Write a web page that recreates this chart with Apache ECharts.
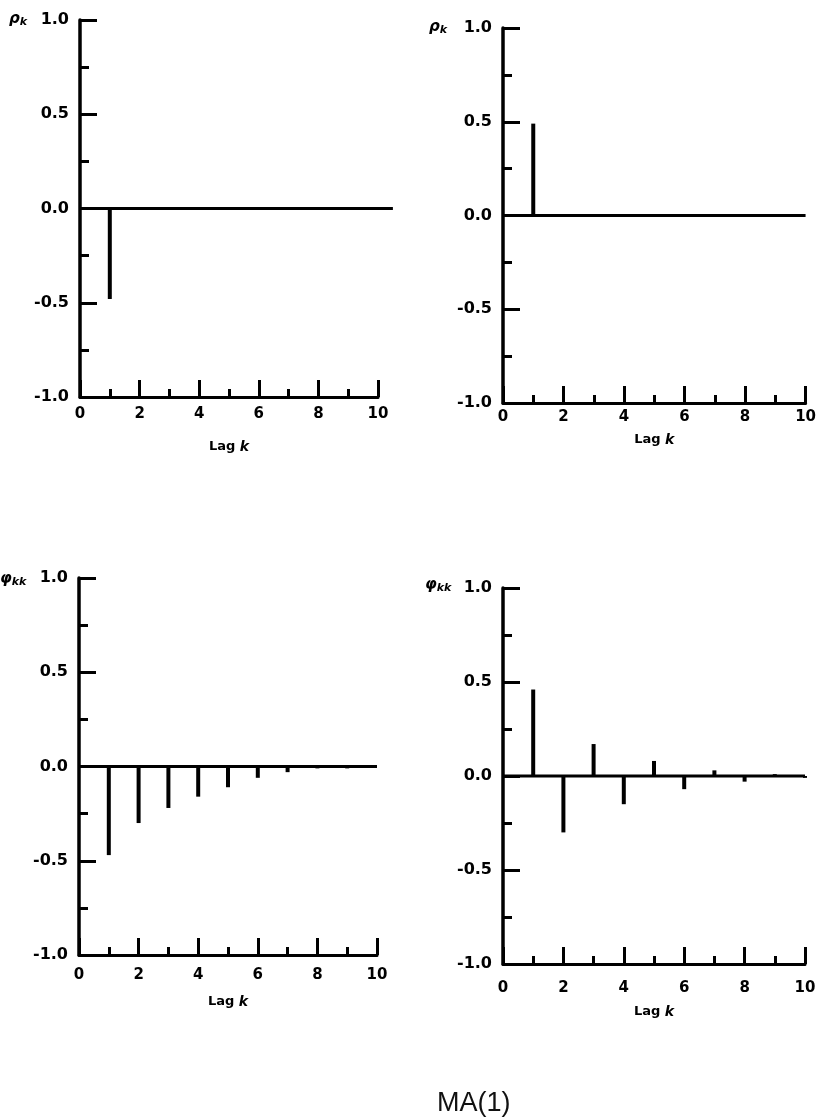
<!DOCTYPE html>
<html>
<head>
<meta charset="utf-8">
<script src="https://cdn.jsdelivr.net/npm/echarts@6/dist/echarts.min.js"></script>
<style>
html,body{margin:0;padding:0;background:#fff;}
#c{width:819px;height:1118px;}
</style>
</head>
<body>
<div id="c"></div>
<script>
// ---- data ----
const lags = [1, 2, 3, 4, 5, 6, 7, 8, 9, 10];
const acfNeg = [-0.48, 0, 0, 0, 0, 0, 0, 0, 0, 0];      // rho_k, theta > 0
const acfPos = [0.49, 0, 0, 0, 0, 0, 0, 0, 0, 0];       // rho_k, theta < 0
const pacfNeg = [-0.47, -0.30, -0.22, -0.16, -0.11, -0.06, -0.03, -0.01, -0.01, 0]; // phi_kk
const pacfAlt = [0.46, -0.30, 0.17, -0.15, 0.08, -0.07, 0.03, -0.03, 0.01, -0.01];  // phi_kk
const yTicks = [-1.0, -0.5, 0.0, 0.5, 1.0];
const xTicks = [0, 2, 4, 6, 8, 10];
const zeroLineEnd = [10.5, 10, 10, 10];
const panelSeries = [acfNeg, acfPos, pacfNeg, pacfAlt];
const yNames = ['ρ', 'ρ', 'φ', 'φ'];
const ySubs = ['k', 'k', 'kk', 'kk'];
const xName = 'Lag';
const caption = 'MA(1)';

// ---- layout (positions only) ----
const grids = [
  {left: 80, top: 20, width: 298, height: 377},
  {left: 503, top: 28, width: 304, height: 375},
  {left: 79, top: 578, width: 298, height: 377},
  {left: 503, top: 588, width: 302, height: 376}
];
const xLabelMargin = [10, 7, 13, 17];
const xNameGap = [43, 30, 40, 41];
const yNamePos = [[9, 12], [429, 20], [0, 572], [425, 578]];

const BOLD = 'DejaVu Sans';
const chart = echarts.init(document.getElementById('c'), null, {renderer: 'canvas'});

const xAxes = grids.map((g, i) => ({
  type: 'value', gridIndex: i, min: xTicks[0], max: xTicks[xTicks.length - 1],
  interval: xTicks[1] - xTicks[0],
  axisLine: {show: true, onZero: false, lineStyle: {color: '#000', width: 3}},
  axisTick: {show: true, inside: true, length: 17, lineStyle: {color: '#000', width: 3}},
  minorTick: {show: true, splitNumber: 2, length: 8, lineStyle: {color: '#000', width: 3}},
  splitLine: {show: false},
  axisLabel: {color: '#000', fontFamily: BOLD, fontWeight: 'bold', fontSize: 15, margin: xLabelMargin[i]},
  name: '{n|' + xName + ' }{k|k}', nameLocation: 'middle', nameGap: xNameGap[i],
  nameTextStyle: {
    verticalAlign: 'top',
    rich: {
      n: {fontFamily: BOLD, fontWeight: 'bold', fontSize: 13, color: '#000'},
      k: {fontFamily: BOLD, fontWeight: 'bold', fontStyle: 'italic', fontSize: 14, color: '#000'}
    }
  }
}));

const yAxes = grids.map((g, i) => ({
  type: 'value', gridIndex: i, min: yTicks[0], max: yTicks[yTicks.length - 1],
  interval: yTicks[1] - yTicks[0],
  axisLine: {show: true, onZero: false, lineStyle: {color: '#000', width: 3.5}},
  axisTick: {show: true, inside: true, length: 17, lineStyle: {color: '#000', width: 3}},
  minorTick: {show: true, splitNumber: 2, length: 9, lineStyle: {color: '#000', width: 3}},
  splitLine: {show: false},
  axisLabel: {color: '#000', fontFamily: BOLD, fontWeight: 'bold', fontSize: 16, margin: 11,
    formatter: v => (Math.abs(v) < 1e-9 ? 0 : v).toFixed(1)}
}));

const series = [];
panelSeries.forEach((vals, i) => {
  series.push({
    type: 'custom', xAxisIndex: i, yAxisIndex: i, silent: true, clip: false, z: 3,
    data: [[0, zeroLineEnd[i]]],
    renderItem: function (params, api) {
      const p0 = api.coord([api.value(0), 0]);
      const p1 = api.coord([api.value(1), 0]);
      return {type: 'line', shape: {x1: p0[0], y1: p0[1], x2: p1[0], y2: p1[1]},
        style: {stroke: '#000', lineWidth: 3}};
    }
  });
  series.push({
    type: 'bar', xAxisIndex: i, yAxisIndex: i, barWidth: 4, silent: true,
    data: lags.map((k, j) => [k, vals[j]]),
    itemStyle: {color: '#000'}, z: 4
  });
});

const graphics = yNamePos.map((p, i) => ({
  type: 'text', left: p[0], top: p[1],
  style: {
    text: '{a|' + yNames[i] + '}{b|' + ySubs[i] + '}',
    rich: {
      a: {fontFamily: BOLD, fontWeight: 'bold', fontStyle: 'italic', fontSize: 15, fill: '#000'},
      b: {fontFamily: BOLD, fontWeight: 'bold', fontStyle: 'italic', fontSize: 11, fill: '#000', verticalAlign: 'bottom', padding: [6, 0, 0, 0]}
    }
  }
}));
graphics.push({
  type: 'text', left: 437, top: 1090,
  style: {text: caption, font: '27px "Liberation Sans", Arial, sans-serif', fill: '#111'}
});

chart.setOption({
  animation: false,
  backgroundColor: '#fff',
  grid: grids.map(g => Object.assign({containLabel: false}, g)),
  xAxis: xAxes,
  yAxis: yAxes,
  series: series,
  graphic: graphics
});
</script>
</body>
</html>
